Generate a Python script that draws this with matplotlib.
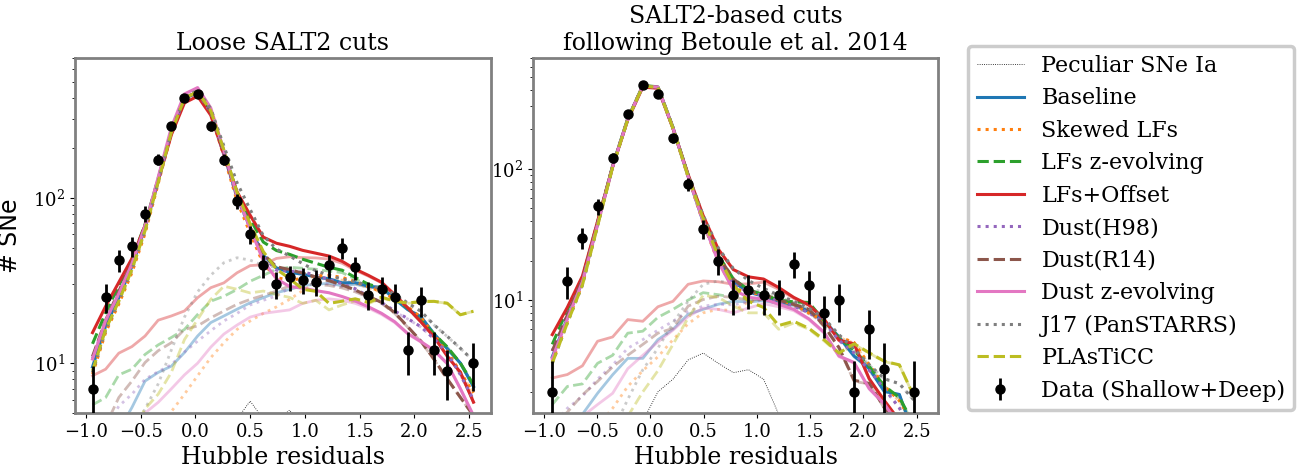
import numpy as np
import matplotlib
matplotlib.use('Agg')
import matplotlib.pyplot as plt

plt.rcParams['font.family'] = 'DejaVu Serif'
plt.rcParams['mathtext.fontset'] = 'dejavuserif'

# Hubble residual bins
edges_loose = np.linspace(-1.0, 2.6, 31)
edges_jla = np.linspace(-0.99, 2.55, 26)

# data counts (0 = empty bin)
data_loose = [7, 25, 42, 51, 80, 170, 272, 401, 427, 271, 170, 95, 60, 39, 30,
              33, 32, 31, 39, 50, 38, 26, 28, 25, 12, 24, 12, 9, 0, 10]
data_jla = [2, 14, 30, 52, 122, 264, 433, 370, 172, 77, 35, 20, 11, 12, 11,
            11, 19, 13, 8, 10, 2, 6, 3, 0, 2]

# simulated normal SNe Ia (shared by all models)
ia_loose = [7.5, 14, 21, 33, 58, 118, 240, 385, 420, 312, 165, 80, 43, 20, 11,
            7.5, 5, 3.2, 2, 1.2, 0.7, 0.4, 0.3, 0.2, 0.1, 0.1, 0.05, 0.05, 0.02, 0.02]
ia_jla = [3.0, 6.3, 12.5, 36, 102, 236, 426, 415, 199, 80, 31, 11, 4, 1.8, 0.8,
          0.4, 0.2, 0.1, 0.1, 0.05, 0.05, 0.02, 0.02, 0.01, 0.01]

# peculiar SNe Ia
pec_loose = [0.05, 0.05, 0.1, 0.2, 0.3, 0.5, 0.8, 1.2, 1.7, 2.3, 3.0, 4.6, 5.9, 4.6, 4.5,
             5.2, 4.2, 3.4, 2.7, 2.2, 1.8, 1.4, 1.0, 0.8, 0.6, 0.4, 0.3, 0.2, 0.1, 0.1]
pec_jla = [0.05, 0.05, 0.1, 0.2, 0.3, 0.6, 1.2, 2.0, 2.5, 3.5, 3.95, 3.3, 2.8, 2.95, 2.5,
           1.35, 1.3, 1.0, 0.8, 0.6, 0.5, 0.4, 0.3, 0.2, 0.1]

models = ['Baseline', 'Skewed LFs', 'LFs z-evolving', 'LFs+Offset', 'Dust(H98)',
          'Dust(R14)', 'Dust z-evolving', 'J17 (PanSTARRS)', 'PLAsTiCC']
colors = ['C0', 'C1', 'C2', 'C3', 'C4', 'C5', 'C6', 'C7', 'C8']
styles = ['-', ':', '--', '-', ':', '--', '-', ':', '--']

ia_scale_loose = [1.0, 1.0, 1.0, 0.92, 1.0, 1.0, 1.08, 1.0, 1.0]
ia_scale_jla = [1.0, 1.0, 1.0, 0.97, 1.0, 1.0, 1.0, 1.0, 1.0]

# core-collapse contamination per model
cc_baseline_loose = [2.0, 2.8, 3.9, 5.4, 7.8, 8.8, 9.6, 11.6, 14.6, 17.6, 19.3, 21.2, 23.2, 24.9, 26.7,
                     27.9, 29.5, 30, 30.4, 29.4, 30, 28.8, 28.4, 24.3, 21, 19, 15, 12.2, 10, 7.2]
cc_skewed_loose = [1.1, 1.4, 1.8, 2.3, 3.0, 3.9, 5.1, 6.5, 8.4, 10.8, 13.3, 16.0, 18, 20, 21.9,
                   24.3, 27.5, 30.5, 32, 31.8, 30.4, 28.6, 26.8, 24.3, 21.8, 18.8, 14.8, 11.8, 8.8, 6.6]
cc_zevol_loose = [5.6, 6.2, 8.5, 9.2, 11.3, 12.9, 14.3, 16.0, 19.7, 23.7, 25.4, 27.9, 31.3, 34, 37,
                  38, 37.5, 37, 36, 35.3, 32.3, 29.6, 28.2, 24.8, 21.4, 17.9, 15, 12.5, 10, 7.4]
cc_offset_loose = [8.4, 9.2, 11.5, 12.6, 14.6, 18.2, 19.3, 20.7, 24.9, 28.6, 30.6, 35.2, 38.9, 39.4, 43,
                   44, 43.5, 43.3, 42.6, 40.2, 36.4, 33.6, 30.6, 25.8, 21.5, 17.7, 14.4, 11, 8.8, 5.8]
cc_h98_loose = [3.2, 4, 5.5, 6.5, 8, 8.9, 9.8, 11.7, 13.6, 15.7, 18, 20, 22.5, 24, 25.5,
                28.5, 30.5, 31, 30, 29, 27.5, 25, 23, 20.5, 18.5, 16.5, 14, 11.5, 8.5, 6.0]
cc_r14_loose = [3.5, 4.2, 6.2, 7.8, 10.1, 11.9, 13.3, 16.0, 16.8, 18.8, 20.7, 22.7, 24.3, 25.7, 27.3,
                29.3, 30, 30, 29.5, 28.5, 27, 25, 23, 20, 16.5, 13.5, 10.5, 8, 6.2, 4.8]
cc_dustz_loose = [2.5, 3, 3.6, 4.3, 5.0, 5.8, 7, 8.5, 10, 12.5, 15, 17, 19, 20, 20.5,
                  21, 23, 24, 24.5, 24, 23, 21.5, 19.7, 17.6, 15, 13.4, 11.9, 9.9, 7, 4.8]
cc_j17_loose = [1.3, 1.8, 2.6, 3.8, 5.3, 7.5, 12, 19, 27, 34, 40.5, 43.4, 42, 39, 38,
                37, 35, 33, 32, 31, 30.5, 29, 28, 26, 23, 20.5, 17, 14.5, 12.3, 10.3]
cc_plasticc_loose = [1.5, 2, 2.7, 3.8, 5.3, 6.5, 8.8, 13.9, 18.4, 24.3, 29.2, 28, 26.6, 27.3, 26,
                     25, 23, 24, 21, 22.5, 23.8, 22.9, 24.8, 23.5, 23, 23.5, 23.6, 23, 19.6, 20.6]

cc_baseline_jla = [0.7, 1.0, 1.35, 1.95, 2.7, 3.6, 3.6, 5.0, 6.0, 7.8, 8.5, 9.3, 9.8, 9.7, 9.9,
                   9.4, 9.1, 8.1, 6.9, 5.2, 3.7, 3.0, 2.0, 1.9, 0.9]
cc_skewed_jla = [0.4, 0.6, 0.8, 1.1, 1.5, 2.2, 2.9, 3.7, 5.0, 6.6, 8.0, 8.5, 8.3, 9.7, 10.2,
                 9.6, 9.1, 7.9, 6.9, 5.2, 4.7, 3.2, 2.2, 1.7, 1.1]
cc_zevol_jla = [1.6, 2.2, 2.3, 3.3, 3.8, 5.6, 5.8, 7.4, 8.5, 10.0, 11.4, 11.0, 10.5, 10.2, 10.2,
                9.6, 9.5, 9.5, 6.9, 5.1, 4.1, 3.1, 2.2, 1.8, 1.1]
cc_offset_jla = [2.55, 2.71, 3.16, 4.86, 5.24, 7.11, 6.9, 8.9, 9.8, 13.2, 14.0, 13.8, 13.2, 13.3, 13.7,
                 12.1, 10.3, 9.1, 7.1, 4.9, 4.6, 2.5, 1.7, 1.2, 0.8]
cc_h98_jla = [1.1, 1.5, 1.85, 2.5, 3.2, 4.3, 5.0, 5.9, 6.9, 8.2, 9.0, 9.3, 9.2, 9.7, 10.0,
              9.4, 8.8, 7.9, 6.7, 4.9, 3.9, 2.9, 2.1, 1.5, 0.9]
cc_r14_jla = [1.1, 1.4, 1.9, 2.4, 3.1, 3.8, 4.6, 5.6, 6.1, 9.0, 10.1, 10.7, 10.5, 10.0, 10.2,
              9.6, 9.1, 8.4, 6.3, 4.3, 2.4, 2.3, 1.5, 1.0, 0.6]
cc_dustz_jla = [0.6, 0.9, 1.3, 1.6, 1.95, 3.0, 3.8, 4.8, 5.9, 7.5, 8.7, 8.5, 8.0, 8.7, 9.4,
                8.9, 8.3, 7.1, 5.6, 3.7, 3.3, 2.1, 1.6, 1.1, 0.7]
cc_j17_jla = [0.3, 0.4, 0.5, 0.6, 1.0, 1.75, 2.95, 4.3, 6.7, 9.8, 13.2, 14.0, 13.4, 12.3, 11.5,
              10.5, 9.6, 8.6, 7.2, 5.4, 4.2, 3.2, 2.5, 2.3, 1.7]
cc_plasticc_jla = [0.3, 0.4, 0.55, 0.75, 1.0, 1.3, 2.0, 2.9, 4.6, 7.3, 10.9, 10.5, 9.0, 8.0, 8.0,
                   6.0, 6.7, 6.0, 4.9, 3.9, 4.6, 3.95, 3.4, 3.2, 1.8]

cc_loose = [cc_baseline_loose, cc_skewed_loose, cc_zevol_loose, cc_offset_loose, cc_h98_loose,
            cc_r14_loose, cc_dustz_loose, cc_j17_loose, cc_plasticc_loose]
cc_jla = [cc_baseline_jla, cc_skewed_jla, cc_zevol_jla, cc_offset_jla, cc_h98_jla,
          cc_r14_jla, cc_dustz_jla, cc_j17_jla, cc_plasticc_jla]


def draw_panel(ax, edges, data, ia, pec, cc_list, scales, title):
    x = 0.5 * (edges[1:] + edges[:-1])
    handles = []
    # contamination alone, faded
    for cc, c, ls in zip(cc_list, colors, styles):
        ax.plot(x, cc, color=c, ls=ls, lw=2, alpha=0.4)
    h, = ax.plot(x, pec, color='k', ls=':', lw=0.6)
    handles.append(h)
    for cc, s, c, ls in zip(cc_list, scales, colors, styles):
        tot = s * np.array(ia) + np.array(cc)
        h, = ax.plot(x, tot, color=c, ls=ls, lw=2.2)
        handles.append(h)
    d = np.array(data, dtype=float)
    m = d > 0
    h = ax.errorbar(x[m], d[m], yerr=np.sqrt(d[m]), fmt='o', color='k',
                    ms=6.5, elinewidth=2, capsize=0, zorder=10)
    handles.append(h)
    ax.set_yscale('log')
    ax.set_xlim(-1.1, 2.7)
    ax.set_xticks([-1.0, -0.5, 0.0, 0.5, 1.0, 1.5, 2.0, 2.5])
    ax.set_xlabel('Hubble residuals', fontsize=17)
    ax.set_title(title, fontsize=17)
    ax.tick_params(labelsize=13)
    for sp in ax.spines.values():
        sp.set_color('0.5')
        sp.set_linewidth(2)
    return handles


fig = plt.figure(figsize=(13.01, 4.70), dpi=100)
ax1 = fig.add_axes([75 / 1301, 57 / 470, 416 / 1301, 355 / 470])
ax2 = fig.add_axes([533 / 1301, 57 / 470, 405 / 1301, 355 / 470])

draw_panel(ax1, edges_loose, data_loose, ia_loose, pec_loose, cc_loose,
           ia_scale_loose, 'Loose SALT2 cuts')
handles = draw_panel(ax2, edges_jla, data_jla, ia_jla, pec_jla, cc_jla,
                     ia_scale_jla, 'SALT2-based cuts\nfollowing Betoule et al. 2014')
ax1.set_ylim(5, 700)
ax2.set_ylim(1.38, 700)
ax1.set_ylabel('# SNe', fontsize=17, family='DejaVu Sans', labelpad=8)

labels = ['Peculiar SNe Ia'] + models + ['Data (Shallow+Deep)']
leg = fig.legend(handles, labels, loc='upper left', bbox_to_anchor=(968 / 1301, 1 - 46 / 470),
                 borderaxespad=0, fontsize=16, handlelength=2.1, framealpha=1,
                 edgecolor='0.8', labelspacing=0.47)
leg.get_frame().set_linewidth(2.5)

fig.savefig('out.png', dpi=100)
